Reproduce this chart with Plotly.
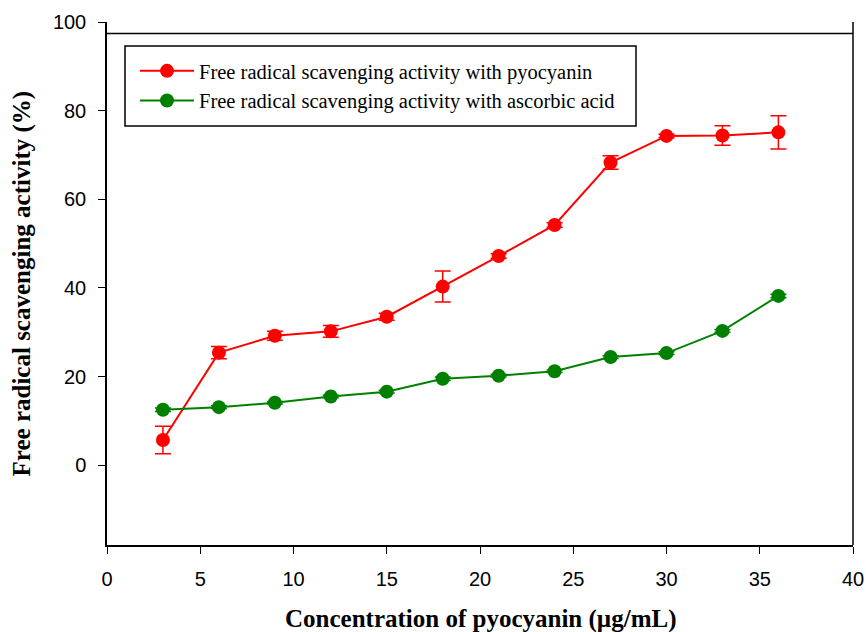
import plotly.graph_objects as go

conc = [3, 6, 9, 12, 15, 18, 21, 24, 27, 30, 33, 36]
pyocyanin = [5.7, 25.4, 29.2, 30.2, 33.5, 40.3, 47.2, 54.2, 68.3, 74.3, 74.4, 75.1]
pyocyanin_err = [3.1, 1.4, 1.0, 1.35, 0.8, 3.5, 0.5, 0.5, 1.5, 0.4, 2.2, 3.75]
ascorbic = [12.5, 13.1, 14.1, 15.5, 16.6, 19.5, 20.2, 21.2, 24.4, 25.3, 30.3, 38.2]
ascorbic_err = [0.4, 0.3, 0.3, 0.3, 0.3, 0.4, 0.3, 0.3, 0.3, 0.3, 0.3, 0.4]
xticks = [0, 5, 10, 15, 20, 25, 30, 35, 40]
yticks = [0, 20, 40, 60, 80, 100]

fig = go.Figure()
fig.add_trace(go.Scatter(
    x=conc, y=pyocyanin, mode="lines+markers",
    name="Free radical scavenging activity with pyocyanin",
    line=dict(color="#ff0000", width=2),
    marker=dict(color="#ff0000", size=14),
    error_y=dict(type="data", array=pyocyanin_err, color="#ff0000", thickness=1.5, width=8),
))
fig.add_trace(go.Scatter(
    x=conc, y=ascorbic, mode="lines+markers",
    name="Free radical scavenging activity with ascorbic acid",
    line=dict(color="#008000", width=2),
    marker=dict(color="#008000", size=14),
    error_y=dict(type="data", array=ascorbic_err, color="#008000", thickness=1.5, width=8),
))

axis_font = dict(family="Liberation Sans, Arial, sans-serif", size=20, color="black")
fig.update_xaxes(
    range=[0, 40], tickvals=xticks, showline=True, linecolor="black", linewidth=1.5,
    ticks="outside", ticklen=7, tickwidth=1, tickcolor="black", tickfont=axis_font,
    showgrid=False, zeroline=False, ticklabelstandoff=8, automargin=False,
)
fig.update_yaxes(
    range=[-18, 100], tickvals=yticks, showline=True, linecolor="black", linewidth=1.5,
    ticks="outside", ticklen=7, tickwidth=1, tickcolor="black", tickfont=axis_font,
    showgrid=False, zeroline=False, ticklabelstandoff=8, automargin=False,
)

# frame lines (top line slightly below 100, right edge)
fig.add_shape(type="line", xref="paper", yref="y", x0=0, x1=1, y0=97.4, y1=97.4,
              line=dict(color="black", width=1.5))
fig.add_shape(type="line", xref="paper", yref="paper", x0=1, x1=1, y0=0, y1=1,
              line=dict(color="black", width=1.5))
# legend frame
fig.add_shape(type="rect", xref="paper", yref="paper",
              x0=(125 - 107) / 746, x1=(636 - 107) / 746,
              y0=(545 - 126) / 523, y1=(545 - 46) / 523,
              line=dict(color="black", width=1.5), fillcolor="rgba(0,0,0,0)")

title_font = dict(family="Liberation Serif, Times New Roman, serif", size=25, color="black")
fig.add_annotation(text="<b>Concentration of pyocyanin (µg/mL)</b>", xref="paper", yref="paper",
                   x=0.5, y=-0.142, xanchor="center", yanchor="middle", showarrow=False, font=title_font)
fig.add_annotation(text="<b>Free radical scavenging activity (%)</b>", xref="paper", yref="paper",
                   x=-0.114, y=0.5, xanchor="center", yanchor="middle", textangle=-90,
                   showarrow=False, font=title_font)

fig.update_layout(
    width=866, height=632,
    margin=dict(l=107, r=13, t=22, b=87, autoexpand=False),
    plot_bgcolor="white", paper_bgcolor="white",
    showlegend=True,
    legend=dict(
        x=(135 - 107) / 746, y=(545 - 51) / 523, xanchor="left", yanchor="top",
        borderwidth=0, bgcolor="rgba(0,0,0,0)",
        font=dict(family="Liberation Serif, Times New Roman, serif", size=20.5, color="black"),
        tracegroupgap=0, itemwidth=54,
    ),
)

fig.write_html("out.html", config={"displayModeBar": False},
               post_script="document.body.style.margin='0px';")
